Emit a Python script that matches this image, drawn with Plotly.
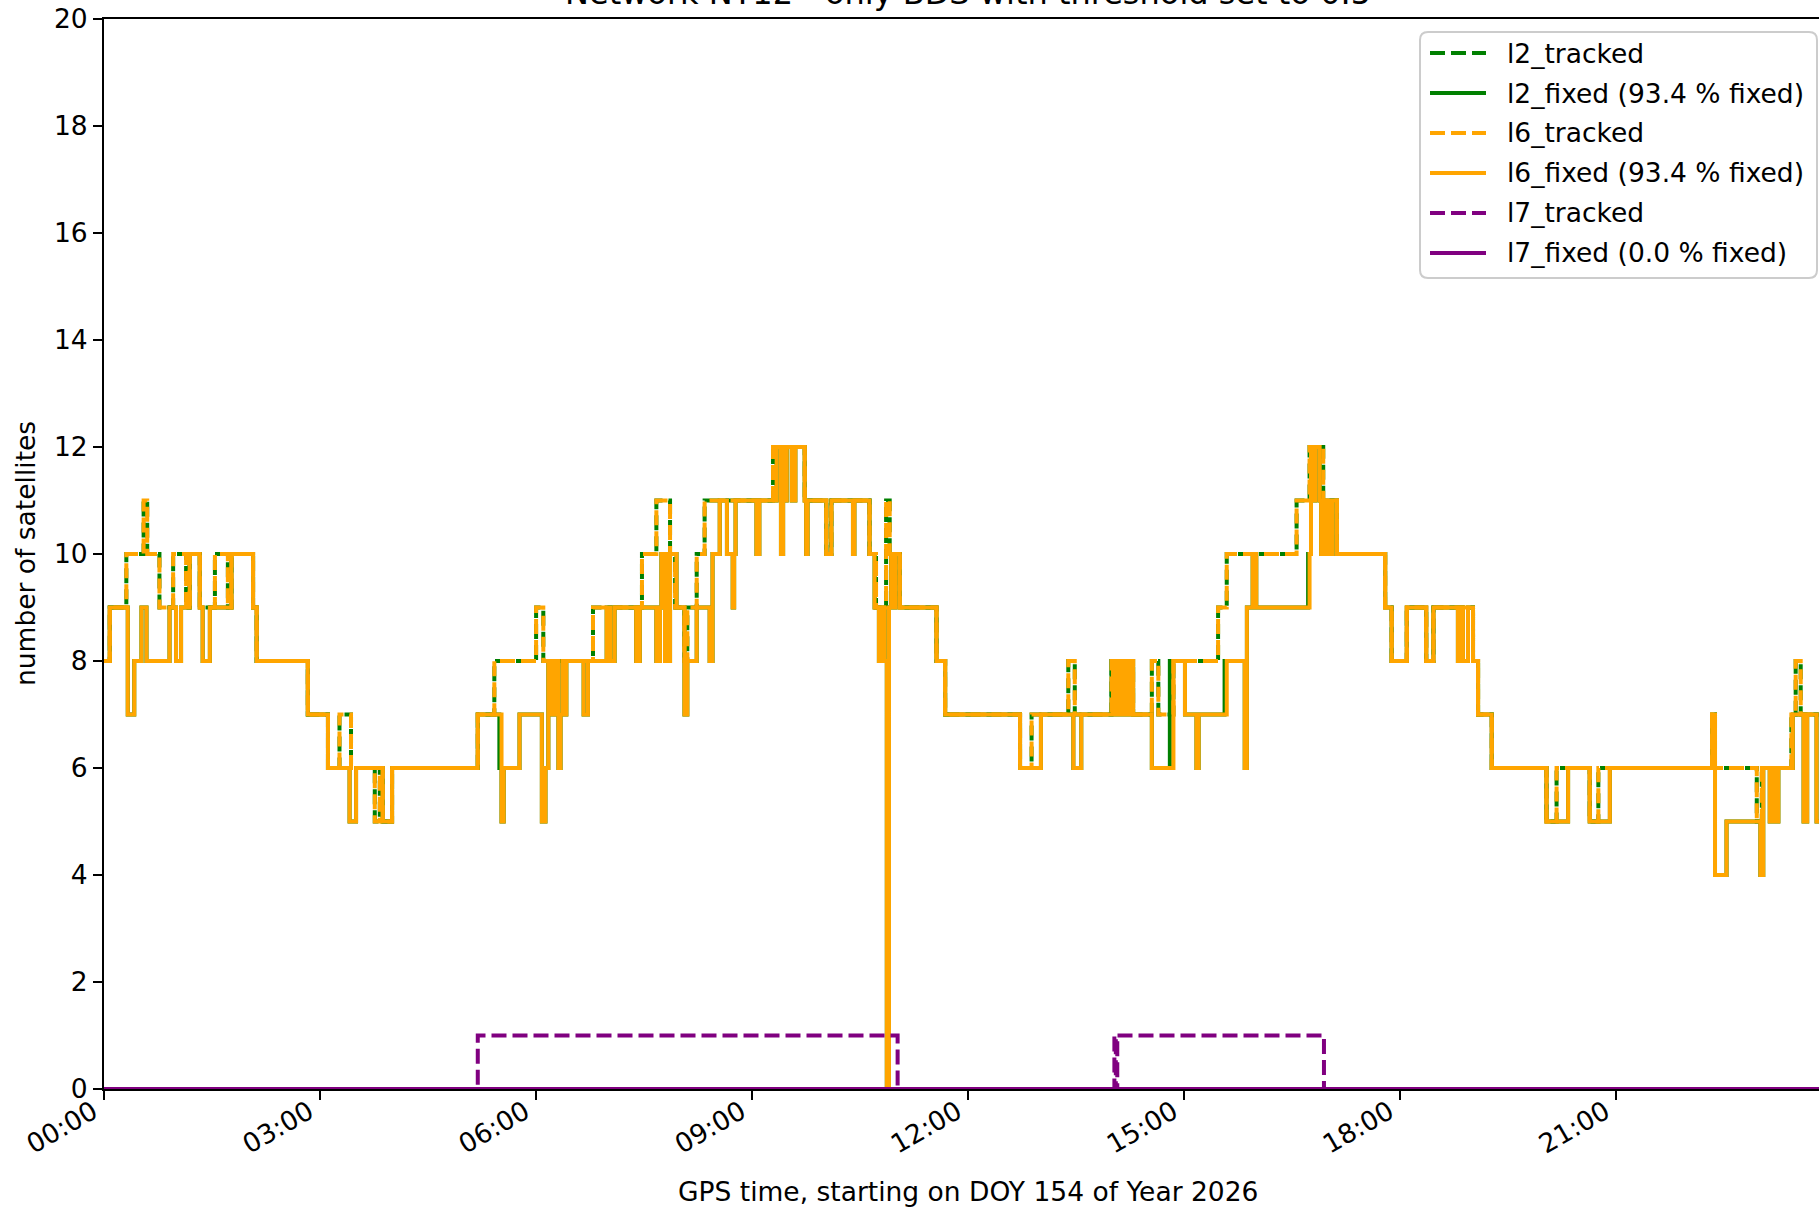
import pandas as pd
import plotly.graph_objects as go

# ---------------- data (hours since 00:00 GPS, satellite counts) ----------------
DAY_START = "2026-06-03"          # DOY 154 of 2026
END_HOUR = 24.0
X_RANGE_HOURS = [0.0, 23.814]

TITLE = "Network NT12 - only BDS with threshold set to 0.5"
X_LABEL = "GPS time, starting on DOY 154 of Year 2026"
Y_LABEL = "number of satellites"
Y_TICKS = list(range(0, 21, 2))

L6_FIXED_T = [0.00, 0.08, 0.33, 0.42, 0.52, 0.59, 0.91, 1.00, 1.07, 1.19, 1.33, 1.37, 1.47, 1.77,
              2.07, 2.12, 2.83, 3.11, 3.41, 3.50, 3.87, 4.00, 5.19, 5.52, 5.55, 5.77, 6.08, 6.13,
              6.17, 6.22, 6.26, 6.31, 6.34, 6.37, 6.40, 6.42, 6.66, 6.72, 6.98, 7.03, 7.09, 7.39,
              7.44, 7.67, 7.72, 7.74, 7.79, 7.81, 7.84, 7.86, 7.95, 8.06, 8.10, 8.23, 8.41, 8.45,
              8.55, 8.65, 8.73, 8.75, 8.77, 9.06, 9.10, 9.34, 9.40, 9.43, 9.46, 9.48, 9.55, 9.60,
              9.73, 9.75, 9.77, 10.03, 10.10, 10.40, 10.42, 10.63, 10.70, 10.76, 10.80, 10.84,
              10.87, 10.90, 10.93, 10.96, 10.99, 11.05, 11.56, 11.68, 12.72, 13.01, 13.46, 13.57,
              14.01, 14.04, 14.06, 14.08, 14.10, 14.12, 14.14, 14.16, 14.18, 14.20, 14.22, 14.25,
              14.27, 14.29, 14.55, 14.85, 15.01, 15.17, 15.20, 15.59, 15.84, 15.87, 15.95, 16.00,
              16.74, 16.76, 16.80, 16.82, 16.88, 16.90, 16.93, 16.98, 17.00, 17.04, 17.06, 17.12,
              17.79, 17.88, 18.09, 18.36, 18.46, 18.80, 18.85, 18.87, 18.94, 19.01, 19.08, 19.27,
              20.03, 20.33, 20.63, 20.91, 22.33, 22.37, 22.53, 23.00, 23.04, 23.13, 23.16, 23.20,
              23.25, 23.45, 23.60, 23.65, 23.78]
L6_FIXED_V = [8, 9, 7, 8, 9, 8, 9, 8, 9, 10, 9, 8, 9, 10,
              9, 8, 7, 6, 5, 6, 5, 6, 7, 5, 6, 7, 5, 6,
              8, 7, 8, 6, 7, 8, 7, 8, 7, 8, 9, 8, 9, 8,
              9, 8, 9, 10, 8, 10, 8, 10, 9, 7, 8, 9, 8, 10,
              11, 10, 9, 10, 11, 10, 11, 12, 10, 12, 11, 12, 11, 12,
              11, 10, 11, 10, 11, 10, 11, 10, 9, 8, 9, 8,
              0, 9, 10, 9, 10, 9, 8, 7, 6, 7, 6, 7,
              8, 7, 8, 7, 8, 7, 8, 7, 8, 7, 8, 7,
              8, 7, 6, 8, 7, 6, 7, 8, 6, 9, 10, 9,
              10, 12, 11, 12, 11, 10, 11, 10, 11, 10, 11, 10,
              9, 8, 9, 8, 9, 8, 9, 8, 9, 8, 7, 6,
              5, 6, 5, 6, 7, 4, 5, 4, 6, 5, 6, 5,
              6, 7, 5, 7, 5]

L6_TRACKED_T = [0.00, 0.08, 0.31, 0.55, 0.60, 0.77, 0.96, 1.14, 1.19, 1.33, 1.54, 1.72, 1.77,
                2.07, 2.12, 2.83, 3.11, 3.27, 3.43, 3.76, 3.83, 3.87, 4.00, 5.19, 5.42, 6.00,
                6.10, 6.79, 7.47, 7.67, 7.86, 7.93, 8.06, 8.10, 8.23, 8.34, 9.29, 9.73, 10.03,
                10.10, 10.63, 10.72, 10.86, 10.91, 11.05, 11.56, 11.68, 12.72, 12.88, 13.39,
                13.48, 13.99, 14.29, 14.55, 14.64, 14.85, 15.47, 15.59, 16.56, 16.74, 16.93,
                17.12, 17.79, 17.88, 18.09, 18.36, 18.46, 19.01, 19.08, 19.27, 20.03, 20.17,
                20.63, 20.75, 22.33, 22.37, 22.95, 23.02, 23.43, 23.49, 23.56]
L6_TRACKED_V = [8, 9, 10, 11, 10, 9, 10, 9, 10, 9, 10, 9, 10,
                9, 8, 7, 6, 7, 6, 5, 6, 5, 6, 7, 8, 9,
                8, 9, 10, 11, 10, 9, 8, 9, 10, 11, 12, 11, 10,
                11, 10, 9, 11, 10, 9, 8, 7, 6, 7, 8,
                7, 8, 7, 8, 7, 8, 9, 10, 11, 12, 11,
                10, 9, 8, 9, 8, 9, 8, 7, 6, 5, 6,
                5, 6, 7, 6, 5, 6, 7, 8, 7]

# L2 differs from L6 only by a few earlier changes (hour, value)
L2_FIXED_EXTRA_T = [5.49, 13.99, 14.80, 15.56, 16.72]
L2_FIXED_EXTRA_V = [6, 8, 8, 8, 10]
L2_TRACKED_EXTRA_T = []
L2_TRACKED_EXTRA_V = []

L7_TRACKED_T = [0.00, 5.19, 11.02, 14.03, 14.05, 14.07, 16.94]
L7_TRACKED_V = [0, 1, 0, 1, 0, 1, 0]
L7_FIXED_T = [0.00]
L7_FIXED_V = [0]

PCT_L2, PCT_L6, PCT_L7 = 93.4, 93.4, 0.0

GREEN, ORANGE, PURPLE = "#008000", "#FFA500", "#800080"

# ---------------- layout geometry (pixels) ----------------
W, H = 1819, 1209
ML, MR, MT, MB = 104, 0, 19, 120
PW, PH = W - ML - MR, H - MT - MB


def px(x):
    return (x - ML) / PW


def py(y):
    return (H - MB - y) / PH


def merge(t, v, et, ev):
    pairs = sorted(list(zip(t, v)) + list(zip(et, ev)), key=lambda p: p[0])
    return [p[0] for p in pairs], [p[1] for p in pairs]


def steps(t, v):
    base = pd.Timestamp(DAY_START)
    hours = list(t) + [END_HOUR]
    vals = list(v) + [v[-1]]
    x = [base + pd.to_timedelta(h, unit="h") for h in hours]
    return x, vals


L2_FIXED_T, L2_FIXED_V = merge(L6_FIXED_T, L6_FIXED_V, L2_FIXED_EXTRA_T, L2_FIXED_EXTRA_V)
L2_TRACKED_T, L2_TRACKED_V = merge(L6_TRACKED_T, L6_TRACKED_V, L2_TRACKED_EXTRA_T, L2_TRACKED_EXTRA_V)

series = [
    ("l2_tracked", L2_TRACKED_T, L2_TRACKED_V, GREEN, "10px,6px,5px,0px", "15px,6px"),
    (f"l2_fixed ({PCT_L2:.1f} % fixed)", L2_FIXED_T, L2_FIXED_V, GREEN, "solid", "solid"),
    ("l6_tracked", L6_TRACKED_T, L6_TRACKED_V, ORANGE, "15px,6px", "15px,6px"),
    (f"l6_fixed ({PCT_L6:.1f} % fixed)", L6_FIXED_T, L6_FIXED_V, ORANGE, "solid", "solid"),
    ("l7_tracked", L7_TRACKED_T, L7_TRACKED_V, PURPLE, "15px,6px", "15px,6px"),
    (f"l7_fixed ({PCT_L7:.1f} % fixed)", L7_FIXED_T, L7_FIXED_V, PURPLE, "solid", "solid"),
]

FONT = "DejaVu Sans"
FS = 26.5
fig = go.Figure()
for i, (name, t, v, color, dash, _) in enumerate(series):
    x, y = steps(t, v)
    fig.add_trace(go.Scatter(
        x=x, y=y, mode="lines", name=name, showlegend=False,
        line=dict(color=color, width=4, dash=dash, shape="hv"),
    ))

# ---------------- legend box (matplotlib style) ----------------
LX0, LX1, LY0, LY1, RAD = 1420, 1817, 32, 278, 8
rx, ry = RAD / PW, RAD / PH
x0, x1, y0, y1 = px(LX0), px(LX1), py(LY0), py(LY1)
path = (f"M{x0 + rx},{y0} L{x1 - rx},{y0} Q{x1},{y0} {x1},{y0 - ry} "
        f"L{x1},{y1 + ry} Q{x1},{y1} {x1 - rx},{y1} L{x0 + rx},{y1} "
        f"Q{x0},{y1} {x0},{y1 + ry} L{x0},{y0 - ry} Q{x0},{y0} {x0 + rx},{y0} Z")
shapes = [dict(type="path", path=path, xref="paper", yref="paper",
               fillcolor="rgba(255,255,255,0.8)", line=dict(color="#cccccc", width=2),
               layer="above")]
annotations = []
ROW0, ROW_STEP = 53, 40
for i, (name, _, _, color, _, ldash) in enumerate(series):
    yy = py(ROW0 + i * ROW_STEP)
    shapes.append(dict(type="line", xref="paper", yref="paper",
                       x0=px(1430), x1=px(1486), y0=yy, y1=yy, layer="above",
                       line=dict(color=color, width=4, dash=ldash)))
    annotations.append(dict(text=name, xref="paper", yref="paper", x=px(1505), y=yy,
                            xanchor="left", yanchor="middle", showarrow=False,
                            font=dict(family=FONT, size=FS, color="black")))

base = pd.Timestamp(DAY_START)
xr = [base + pd.to_timedelta(h, unit="h") for h in X_RANGE_HOURS]
xc = px(104.4 + 72 * 12)   # centre of the full 24 h axis

annotations += [
    dict(text=TITLE, xref="paper", yref="paper", x=xc, y=1.0,
         xanchor="center", yanchor="bottom", yshift=5, showarrow=False,
         font=dict(family=FONT, size=32, color="black")),
    dict(text=X_LABEL, xref="paper", yref="paper", x=xc, y=0.0,
         xanchor="center", yanchor="middle", yshift=-102, showarrow=False,
         font=dict(family=FONT, size=FS, color="black")),
    dict(text=Y_LABEL, xref="paper", yref="paper", x=0.0, y=0.5,
         xanchor="center", yanchor="middle", xshift=-79, textangle=-90,
         showarrow=False, font=dict(family=FONT, size=FS, color="black")),
]

fig.update_layout(
    width=W, height=H,
    margin=dict(l=ML, r=MR, t=MT, b=MB),
    paper_bgcolor="white", plot_bgcolor="white",
    font=dict(family=FONT, size=FS, color="black"),
    showlegend=False,
    xaxis=dict(
        type="date", range=xr, tickformat="%H:%M", dtick=3 * 3600 * 1000,
        tick0=base, tickangle=-30, ticks="outside", ticklen=9, tickwidth=2,
        tickcolor="black", showline=True, linecolor="black", linewidth=2,
        mirror=True, showgrid=False, zeroline=False,
        ticklabelstandoff=-14, ticklabelshift=-11,
        tickfont=dict(family=FONT, size=FS, color="black"),
    ),
    yaxis=dict(
        range=[0, 20], tickvals=Y_TICKS, ticks="outside", ticklen=9, tickwidth=2,
        tickcolor="black", showline=True, linecolor="black", linewidth=2,
        mirror=False, showgrid=False, zeroline=False,
        tickfont=dict(family=FONT, size=FS, color="black"),
    ),
    shapes=shapes,
    annotations=annotations,
)

fig.write_html("out.html")
